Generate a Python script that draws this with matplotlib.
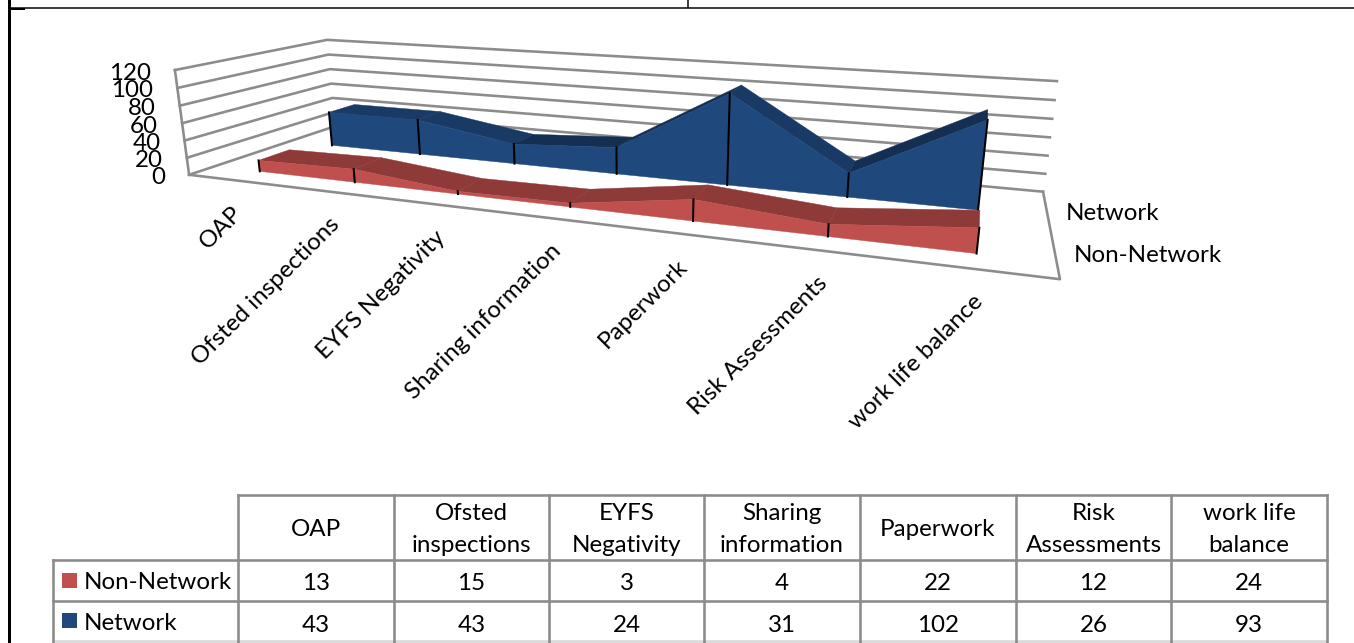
import numpy as np
import matplotlib
matplotlib.use("Agg")
import matplotlib.pyplot as plt
from matplotlib.patches import Polygon, Rectangle

plt.rcParams["font.family"] = ["Lato", "DejaVu Sans"]

# data
categories = ["OAP", "Ofsted inspections", "EYFS Negativity", "Sharing information",
              "Paperwork", "Risk Assessments", "work life balance"]
table_headers = ["OAP", "Ofsted\ninspections", "EYFS\nNegativity", "Sharing\ninformation",
                 "Paperwork", "Risk\nAssessments", "work life\nbalance"]
non_network = [13, 15, 3, 4, 22, 12, 24]
network = [43, 43, 24, 31, 102, 26, 93]
y_ticks = [0, 20, 40, 60, 80, 100, 120]

RED = "#C0504D"
RED_DARK = "#8E3A38"
BLUE = "#1F497D"
BLUE_DARK = "#1A3A66"
BLUE_DARKER = "#142F52"
GRID = "#8C8C8C"
W, H = 1354, 643
PX = 0.72

fig = plt.figure(figsize=(W / 100, H / 100), dpi=100)
ax = fig.add_axes([0, 0, 1, 1])
ax.set_xlim(0, W)
ax.set_ylim(H, 0)
ax.axis("off")

# camera for the 3d box, (width, depth, height) -> pixel, fitted on the box corners
corners = [((0, 0, 0), (189, 175)), ((0, 1, 0), (335, 126)), ((1, 1, 0), (1043, 192)),
           ((1, 0, 0), (1060, 279)), ((0, 0, 1), (175, 70)), ((0, 1, 1), (327, 40)),
           ((1, 1, 1), (1057, 81))]
rows, rhs = [], []
for (a, b, c), (px, py) in corners:
    rows.append([a, b, c, 1, 0, 0, 0, 0, -px * a, -px * b, -px * c])
    rows.append([0, 0, 0, 0, a, b, c, 1, -py * a, -py * b, -py * c])
    rhs += [px, py]
cam = np.linalg.lstsq(np.array(rows, float), np.array(rhs, float), rcond=None)[0]
cam = np.append(cam, 1).reshape(3, 4)


def proj(u, d, val):
    p = cam @ np.array([u, d, val / 120, 1])
    return p[0] / p[2], p[1] / p[2]


def line(pts, color=GRID, lw=2.6, z=1):
    xs, ys = zip(*pts)
    ax.plot(xs, ys, color=color, lw=lw * PX, zorder=z, solid_capstyle="projecting")


# walls and floor
for t in y_ticks:
    line([proj(0, 0, t), proj(0, 1, t), proj(1, 1, t)])
line([proj(0, 0, 0), proj(0, 0, 120)])
line([proj(0, 0, 0), proj(1, 0, 0), proj(1, 1, 0)])


def draw_area(vals, d0, d1, front, top, top_rise, z):
    n = len(vals)
    us = [(i + 0.5) / n for i in range(n)]
    for i in range(n - 1):
        band = [proj(us[i], d0, vals[i]), proj(us[i + 1], d0, vals[i + 1]),
                proj(us[i + 1], d1, vals[i + 1]), proj(us[i], d1, vals[i])]
        col = top_rise if vals[i + 1] > vals[i] else top
        ax.add_patch(Polygon(band, fc=col, ec=col, lw=0.3, zorder=z))
    face = [proj(u, d0, v) for u, v in zip(us, vals)] + [proj(us[-1], d0, 0), proj(us[0], d0, 0)]
    ax.add_patch(Polygon(face, fc=front, ec=front, lw=0.3, zorder=z + 0.1))
    for u, v in zip(us, vals):
        line([proj(u, d0, 0), proj(u, d0, v)], color="black", lw=2, z=z + 0.2)


draw_area(network, 0.65, 0.85, BLUE, BLUE_DARK, BLUE_DARKER, 3)
draw_area(non_network, 0.15, 0.35, RED, RED_DARK, RED_DARK, 4)

# axis labels
FS = 17.4
for t in y_ticks:
    x, y = proj(0, 0, t)
    ax.text(x - 24, y + 3, str(t), ha="right", va="center", fontsize=FS, color="black", zorder=6)
for i, name in enumerate(categories):
    x, y = proj((i + 0.5) / 7, 0, 0)
    ax.text(x - 4, y + 22, name, rotation=45, rotation_mode="anchor", ha="right", va="top",
            fontsize=FS, color="black", zorder=6)
ax.text(1066, 213, "Network", ha="left", va="center", fontsize=FS, zorder=6)
ax.text(1074, 256, "Non-Network", ha="left", va="center", fontsize=FS, zorder=6)

# data table
col_x = [238, 394, 549, 704, 860, 1016, 1171, 1327]
row_y = [495, 560, 601, 641]
left_x = 53
line([(col_x[0], row_y[0]), (col_x[-1], row_y[0])])
for y in row_y[1:3]:
    line([(left_x, y), (col_x[-1], y)])
line([(left_x, row_y[3]), (col_x[-1], row_y[3])], color="#D9D9D9")
line([(left_x, row_y[1]), (left_x, H)])
for i, x in enumerate(col_x):
    line([(x, row_y[0]), (x, H)])
for i, head in enumerate(table_headers):
    cx = (col_x[i] + col_x[i + 1]) / 2
    ax.text(cx, (row_y[0] + row_y[1]) / 2 + 2, head, ha="center", va="center", fontsize=FS,
            linespacing=1.6)
    ax.text(cx, (row_y[1] + row_y[2]) / 2 + 3, str(non_network[i]), ha="center", va="center", fontsize=FS)
    ax.text(cx, (row_y[2] + row_y[3]) / 2 + 4, str(network[i]), ha="center", va="center", fontsize=FS)
for name, col, r in [("Non-Network", RED, 1), ("Network", BLUE, 2)]:
    ym = (row_y[r] + row_y[r + 1]) / 2
    ax.add_patch(Rectangle((62, ym - 8), 15, 15, fc=col, ec="none", zorder=3))
    ax.text(84, ym + 2, name, ha="left", va="center", fontsize=FS)

# page border of the document behind the chart
line([(9, 0), (9, H)], color="black", lw=3, z=8)
line([(9, 7.5), (W, 7.5)], color="black", lw=1.5, z=8)
line([(9, 8.5), (24, 8.5)], color="black", lw=2, z=8)
line([(688, 0), (688, 7)], color="black", lw=1.5, z=8)

fig.savefig("out.png", dpi=100)
